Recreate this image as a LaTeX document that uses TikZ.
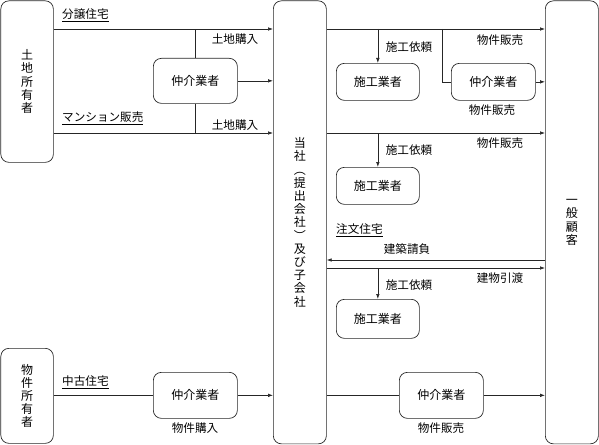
\documentclass[tikz,border=0pt]{standalone}
\usepackage{fontspec}
\setmainfont{Noto Sans CJK JP}
\usetikzlibrary{arrows.meta}
\tikzset{
  box/.style={draw=black!85, line width=0.7pt, rounded corners=8pt, anchor=north west, inner sep=0pt, align=center, font=\fontsize{12}{13.2}\selectfont},
  ln/.style={draw=black!85, line width=0.7pt},
  arr/.style={ln, -{Latex[length=5pt,width=3.6pt]}},
  lbl/.style={inner sep=0pt, font=\fontsize{11.6}{13}\selectfont},
}
\begin{document}
\begin{tikzpicture}[x=1pt,y=-1pt]
\useasboundingbox (0,0) rectangle (599,444);
% big boxes
\node[box, minimum width=52.5pt, minimum height=161.5pt] (own1) at (0.5,0.5) {土\\地\\所\\有\\者};
\node[box, minimum width=52.5pt, minimum height=95pt] (own2) at (0.5,348) {物\\件\\所\\有\\者};
\node[box, minimum width=53pt, minimum height=443pt] (comp) at (273,0.5) {当\\社\\︵\\提\\出\\会\\社\\︶\\及\\び\\子\\会\\社};
\node[box, minimum width=53pt, minimum height=443pt] (cust) at (545,0.5) {一\\般\\顧\\客};
% small boxes
\node[box, minimum width=84pt, minimum height=45pt] (brk1) at (153,58) {仲介業者};
\node[box, minimum width=83pt, minimum height=37pt] (con1) at (336,63) {施工業者};
\node[box, minimum width=84pt, minimum height=37pt] (brk2) at (451,63) {仲介業者};
\node[box, minimum width=83pt, minimum height=37pt] (con2) at (336,167) {施工業者};
\node[box, minimum width=83pt, minimum height=39pt] (con3) at (336,299) {施工業者};
\node[box, minimum width=84pt, minimum height=46pt] (brk3) at (153,372) {仲介業者};
\node[box, minimum width=84pt, minimum height=46pt] (brk4) at (399,372) {仲介業者};
% coordinates
\coordinate (a1) at (196,29);
\coordinate (a2) at (196,133);
\coordinate (b1) at (442,29);
% connectors left
\draw[arr] (own1.east |- 0,29) -- (comp.west |- 0,29);
\draw[arr] (own1.east |- 0,133) -- (comp.west |- 0,133);
\draw[ln] (brk1.north) -- (brk1.north |- a1);
\draw[ln] (brk1.south) -- (brk1.south |- a2);
\draw[arr] (brk1.east) -- (comp.west |- brk1.east);
% right upper
\draw[arr] (comp.east |- 0,29) -- (cust.west |- 0,29);
\draw[arr] (con1.north |- 0,29) -- (con1.north);
\draw[ln] (b1) |- (brk2.west);
\draw[arr] (brk2.east) -- (cust.west |- brk2.east);
\draw[arr] (comp.east |- 0,133) -- (cust.west |- 0,133);
\draw[arr] (con2.north |- 0,133) -- (con2.north);
\draw[arr] (cust.west |- 0,260) -- (comp.east |- 0,260);
\draw[arr] (comp.east |- 0,268) -- (cust.west |- 0,268);
\draw[arr] (con3.north |- 0,268) -- (con3.north);
% bottom
\draw[ln] (own2.east |- brk3.west) -- (brk3.west);
\draw[arr] (brk3.east) -- (comp.west |- brk3.east);
\draw[ln] (comp.east |- brk4.west) -- (brk4.west);
\draw[arr] (brk4.east) -- (cust.west |- brk4.east);
% labels
\node[lbl, anchor=west] (l1) at (62,15) {\underline{分譲住宅}};
\node[lbl, anchor=west] (l2) at (62,118) {\underline{マンション販売}};
\node[lbl] (l3) at (235,39) {土地購入};
\node[lbl] (l4) at (235,125) {土地購入};
\node[lbl] (l5) at (409,47) {施工依頼};
\node[lbl] (l6) at (500,40) {物件販売};
\node[lbl] (l7) at (492,110) {物件販売};
\node[lbl] (l8) at (500,143) {物件販売};
\node[lbl] (l9) at (409,150) {施工依頼};
\node[lbl, anchor=west] (l10) at (336,230) {\underline{注文住宅}};
\node[lbl] (l11) at (407,249) {建築請負};
\node[lbl] (l12) at (500,278) {建物引渡};
\node[lbl] (l13) at (409,285) {施工依頼};
\node[lbl, anchor=west] (l14) at (62,382) {\underline{中古住宅}};
\node[lbl] (l15) at (195,428) {物件購入};
\node[lbl] (l16) at (441,428) {物件販売};
\end{tikzpicture}
\end{document}
